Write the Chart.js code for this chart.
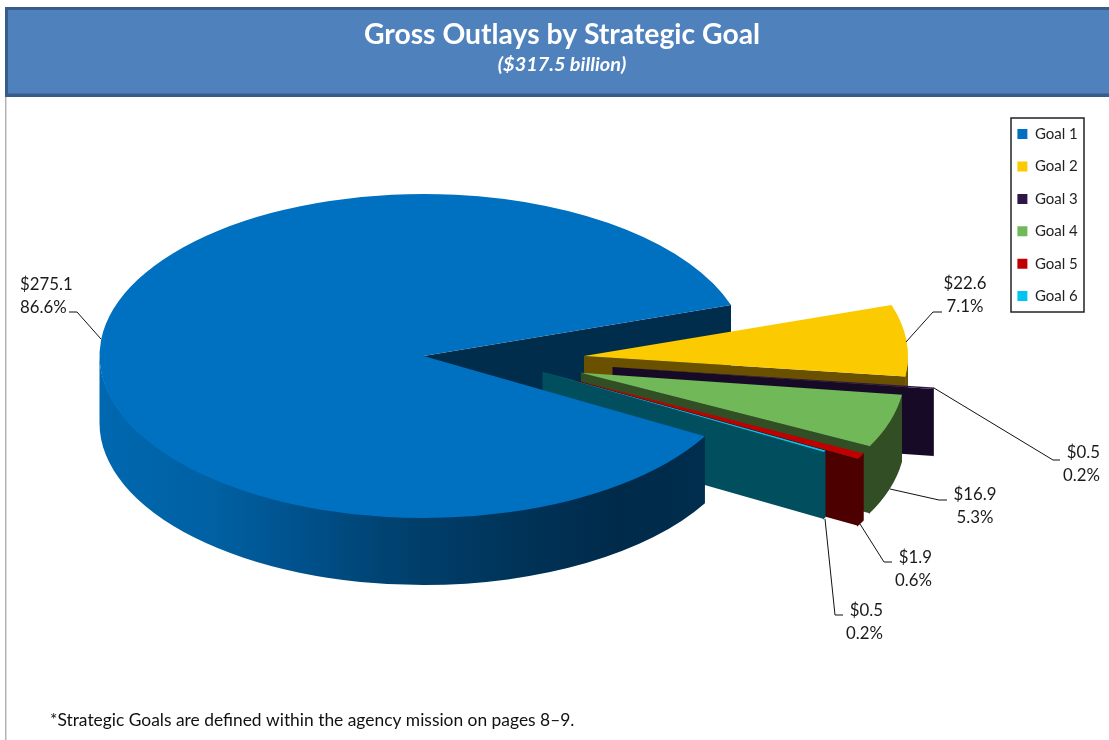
<!DOCTYPE html>
<html>
<head>
<meta charset="utf-8">
<title>Gross Outlays by Strategic Goal</title>
<script src="https://cdn.jsdelivr.net/npm/chart.js@4"></script>
<style>
  html, body { margin: 0; padding: 0; background: #fff; }
  canvas { display: block; }
</style>
</head>
<body>
<canvas id="grafico" width="1109" height="740"></canvas>
<script>
const metas = ["Goal 1", "Goal 2", "Goal 3", "Goal 4", "Goal 5", "Goal 6"];
const gastos = [275.1, 22.6, 0.5, 16.9, 1.9, 0.5];

// colors: top of slice, cut face, outer wall
const colorTapa = ["#0070c0", "#fcca00", "#2f1649", "#71b858", "#c00000", "#00c5ef"];
const colorCorte = ["#012d4c", "#6a5100", "#170a26", "#324e24", "#4d0000", "#014e5f"];
const colorPared = [null, "#6a5100", "#170a26", "#324e24", "#4d0000", "#014e5f"];

// how far each slice is pulled out of the pie, in px on the page
const sacarX = [0, 160.5, 189, 157.5, 151.5, 119];
const sacarY = [0, 0, 11, 16.7, 24, 15.7];

// value labels: text position and leader line of each slice
const etiquetaX = [20, 965, 1100, 975, 932, 883];
const etiquetaY = [285, 284, 453, 495, 558, 611];
const etiquetaAlign = ["left", "center", "right", "center", "right", "right"];
const lineas = [
  [[101, 339], [77, 312], [69, 312]],
  [[906, 342], [933, 312], [942, 312]],
  [[934, 388], [1053, 460], [1060, 460]],
  [[890, 489], [939, 500], [947, 500]],
  [[860, 524], [884, 562], [892, 562]],
  [[825, 519], [835, 615], [843, 615]],
];

const fuente = "Lato, 'Open Sans', sans-serif";
const centroX = 423.5;
const centroY = 356;
const radio = 324;
const achatado = 0.5;
const alto = 67;
const total = gastos.reduce((a, b) => a + b, 0);

function dibujarCorte(ctx, arco, i) {
  const x = arco.x + sacarX[i];
  const y = arco.y + sacarY[i];
  const ang = arco.endAngle;
  const bx = x + Math.cos(ang) * arco.outerRadius;
  const by = y + Math.sin(ang) * arco.outerRadius * achatado;
  ctx.fillStyle = colorCorte[i];
  ctx.beginPath();
  ctx.moveTo(x, y);
  ctx.lineTo(bx, by);
  ctx.lineTo(bx, by + alto);
  ctx.lineTo(x, y + alto);
  ctx.closePath();
  ctx.fill();
}

function dibujarPared(ctx, arco, i) {
  const x = arco.x + sacarX[i];
  const y = arco.y + sacarY[i];
  const r = arco.outerRadius;
  // only the part of the rim on the lower half faces the viewer
  [0, Math.PI * 2].forEach((vuelta) => {
    const desde = Math.max(arco.startAngle, vuelta);
    let hasta = Math.min(arco.endAngle, vuelta + Math.PI);
    if (hasta <= desde) return;
    if (colorPared[i]) {
      ctx.fillStyle = colorPared[i];
      // runs a little under the cut face so no seam shows between them
      hasta += 0.006;
    } else {
      const grad = ctx.createLinearGradient(x - r, 0, x + r, 0);
      grad.addColorStop(0, "#0068b0");
      grad.addColorStop(0.18, "#0060a2");
      grad.addColorStop(0.32, "#00508a");
      grad.addColorStop(0.45, "#004270");
      grad.addColorStop(0.65, "#003358");
      grad.addColorStop(0.8, "#002a4a");
      grad.addColorStop(1, "#012f50");
      ctx.fillStyle = grad;
    }
    // upper edge sits 1px under the top so the antialiasing does not leave a light line
    ctx.beginPath();
    ctx.ellipse(x, y - 1, r, r * achatado, 0, desde, hasta);
    ctx.ellipse(x, y + alto, r, r * achatado, 0, hasta, desde, true);
    ctx.closePath();
    ctx.fill();
  });
}

function dibujarTapa(ctx, arco, i) {
  ctx.save();
  ctx.translate(sacarX[i], sacarY[i] + arco.y);
  ctx.scale(1, achatado);
  ctx.translate(0, -arco.y);
  arco.draw(ctx);
  ctx.restore();
}

const pie3d = {
  id: "pie3d",
  afterLayout(chart) {
    // pie and legend do not follow the default layout boxes
    const area = chart.chartArea;
    area.left = centroX - radio;
    area.right = centroX + radio;
    area.top = centroY - radio;
    area.bottom = centroY + radio;
    area.width = radio * 2;
    area.height = radio * 2;
    const leyenda = chart.legend;
    leyenda.left = 1000;
    leyenda.right = 1084;
    leyenda.top = 109.2;
    leyenda.bottom = 400;
    leyenda.width = 84;
    leyenda.height = 290.8;
  },
  beforeDraw(chart) {
    const ctx = chart.ctx;
    ctx.save();
    // left rule of the page
    ctx.fillStyle = "#b4b4b4";
    ctx.fillRect(5, 95, 1.5, 645);
    // header band
    ctx.fillStyle = "#385d8a";
    ctx.fillRect(5, 7, 1104, 90);
    ctx.fillStyle = "#4f81bd";
    ctx.fillRect(8, 10, 1101, 83.5);
    // legend frame
    ctx.strokeStyle = "#222";
    ctx.lineWidth = 1.5;
    ctx.strokeRect(1011, 118, 73, 194);
    ctx.restore();
  },
  beforeDatasetDraw(chart, args) {
    const ctx = chart.ctx;
    const arcos = args.meta.data;
    ctx.save();
    // back cut of the big slice goes first, its rim and top go last
    dibujarCorte(ctx, arcos[0], 0);
    for (let i = 1; i < arcos.length; i++) {
      dibujarPared(ctx, arcos[i], i);
      dibujarCorte(ctx, arcos[i], i);
      dibujarTapa(ctx, arcos[i], i);
    }
    dibujarPared(ctx, arcos[0], 0);
    dibujarTapa(ctx, arcos[0], 0);
    ctx.restore();
    return false;
  },
  afterDraw(chart) {
    const ctx = chart.ctx;
    ctx.save();
    ctx.strokeStyle = "#111";
    ctx.lineWidth = 1;
    lineas.forEach((puntos) => {
      ctx.beginPath();
      puntos.forEach((p, n) => (n ? ctx.lineTo(p[0], p[1]) : ctx.moveTo(p[0], p[1])));
      ctx.stroke();
    });
    ctx.fillStyle = "#1a1a1a";
    ctx.font = "16.8px " + fuente;
    ctx.textBaseline = "middle";
    gastos.forEach((valor, i) => {
      ctx.textAlign = etiquetaAlign[i];
      ctx.fillText("$" + valor.toFixed(1), etiquetaX[i], etiquetaY[i]);
      const pct = ((valor / total) * 100).toFixed(1) + "%";
      ctx.fillText(pct, etiquetaX[i], etiquetaY[i] + 23);
    });
    ctx.textAlign = "left";
    ctx.fillStyle = "#111";
    ctx.font = "17.4px " + fuente;
    ctx.fillText("*Strategic Goals are defined within the agency mission on pages 8\u20139.", 50, 720);
    ctx.restore();
  },
};

new Chart(document.querySelector("#grafico"), {
  type: "pie",
  data: {
    labels: metas,
    datasets: [{
      data: gastos,
      backgroundColor: colorTapa,
      borderWidth: 0,
    }],
  },
  options: {
    responsive: false,
    animation: false,
    rotation: 119.7,
    radius: radio,
    layout: { padding: { left: 15 } },
    plugins: {
      title: {
        display: true,
        text: "Gross Outlays by Strategic Goal",
        color: "#fff",
        font: { family: fuente, size: 28.3, weight: "bold" },
        padding: { top: 17.5, bottom: 0 },
      },
      subtitle: {
        display: true,
        text: "($317.5 billion)",
        color: "#fff",
        font: { family: fuente, size: 19.9, weight: "bold", style: "italic" },
        padding: { top: 1.5, bottom: 0 },
      },
      legend: {
        position: "right",
        align: "start",
        labels: {
          boxWidth: 10,
          boxHeight: 10,
          padding: 17.4,
          color: "#222",
          font: { family: fuente, size: 15 },
        },
      },
      tooltip: { enabled: false },
    },
  },
  plugins: [pie3d],
});
</script>
</body>
</html>
